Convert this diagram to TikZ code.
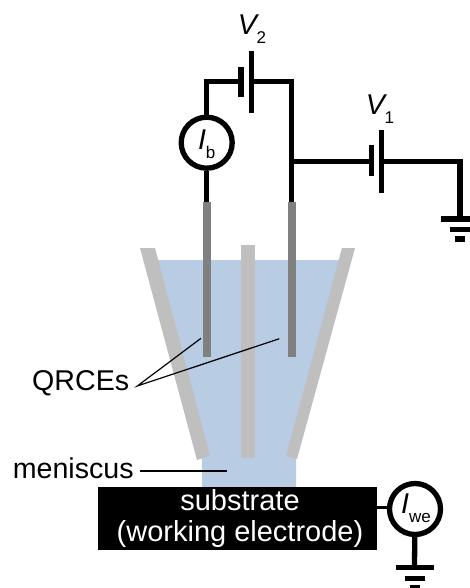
\documentclass[tikz,border=0pt]{standalone}
\usepackage{fontspec}
\setmainfont{Liberation Sans}
\newcommand{\sublabel}[2]{\textit{#1}\raisebox{-9.5pt}{\fontsize{17}{17}\selectfont #2}}
\begin{document}
\begin{tikzpicture}[x = 1pt, y = -1pt,
        every node/.style={inner sep=0pt, font=\fontsize{28.6}{31}\selectfont}
]
\tikzstyle{wire}= [draw=black, line width=5.3pt]
\tikzstyle{meter}= [draw=black, circle, fill=white, line width=5.3pt, minimum size = 51pt]
\tikzstyle{leader}= [draw=black, line width=1.2pt]
\tikzstyle{glass}= [fill=glassgrey]
\tikzstyle{rod}= [fill=rodgrey]
\definecolor{liquidblue}{HTML}{B8CCE4}
\definecolor{glassgrey}{HTML}{BFBFBF}
\definecolor{rodgrey}{HTML}{808080}
    \clip (0,0) rectangle (470,588);
    \fill[white] (0,0) rectangle (470,588);

    % liquid and pipette
    \fill[liquidblue] (156,260) -- (339,260) -- (296,458) -- (296,488) -- (202,488) -- (202,458) -- cycle;
    \fill[glass] (140,248) -- (155,248) -- (210,456) -- (197,460) -- cycle;
    \fill[glass] (342,248) -- (355,248) -- (297,459) -- (286,456) -- cycle;
    \fill[glass] (241,245) rectangle (254.5,458);
    \fill[rod] (202.5,201.5) rectangle (211,356.5);
    \fill[rod] (287.5,201.5) rectangle (296,356.5);

    % nodes
    \node[meter, text height=20pt, text depth=6.4pt] (ib) at (206.7,142.7) {\sublabel{I}{b}};
    \node[meter, text height=20pt, text depth=12pt] (iwe) at (415,509) {\hspace*{2pt}\sublabel{I}{we}};
    \node[fill=black, text=white, align=center, minimum width=278.5pt, minimum height=63pt, font=\fontsize{29}{31}\selectfont] (sub) at (237.5,518.7) {\hspace*{5pt}substrate\\\hspace*{5pt}(working electrode)};
    \node (v2) at (252,29) {\textit{V}\kern-2.5pt\raisebox{-9.5pt}{\fontsize{17}{17}\selectfont 2}};
    \node (v1) at (380,109) {\textit{V}\kern-2.5pt\raisebox{-9.5pt}{\fontsize{17}{17}\selectfont 1}};
    \node (qrces) at (80.7,383) {QRCEs};
    \node (meniscus) at (73.2,468) {meniscus};

    \coordinate (v2small) at (241,81.7);
    \coordinate (v2big) at (251.7,81.7);
    \coordinate (tipb) at (206.7,202);
    \coordinate (tipa) at (291.7,202);
    \coordinate (junction) at (291.7,161.7);
    \coordinate (v1small) at (371.7,161.7);
    \coordinate (v1big) at (381.7,161.7);
    \coordinate (gnda) at (460,219);
    \coordinate (gndb) at (414.5,567.7);
    \coordinate (leftend) at (201,338.3);
    \coordinate (rightend) at (279.3,338.7);
    \coordinate (fork) at (137.3,386);
    \coordinate (menstart) at (140,471);
    \coordinate (menend) at (226.7,471);
    \coordinate (wejoin) at (415,507);

    % circuit
    \draw[wire] (ib) |- (v2small);
    \draw[wire] (ib) -- (tipb);
    \draw[wire] (v2big) -| (tipa);
    \draw[wire] (junction) -- (v1small);
    \draw[wire] (v1big) -| (gnda);
    \draw[wire, line width=3pt] (sub.east |- wejoin) -- (iwe.west |- wejoin);
    \draw[wire] (iwe) -- (gndb);
    \foreach \plate/\halfa/\halfb in {v2small/15/15.5, v2big/30.5/31.5, v1small/16.5/14, v1big/31.5/31}{
        \draw[wire] ([yshift=\halfa pt]\plate) -- ([yshift=-\halfb pt]\plate);
    }
    \foreach \gnd in {gnda, gndb}{
        \draw[wire] ([xshift=-19pt]\gnd) -- ([xshift=19pt]\gnd);
        \draw[wire] ([shift={(-10pt,-10.5pt)}]\gnd) -- ([shift={(10pt,-10.5pt)}]\gnd);
        \draw[wire] ([shift={(-5pt,-20pt)}]\gnd) -- ([shift={(5pt,-20pt)}]\gnd);
    }

    % pointers
    \draw[leader] (leftend) -- (fork) -- (rightend);
    \draw[leader] (menstart) -- (menend);

\end{tikzpicture}
\end{document}
